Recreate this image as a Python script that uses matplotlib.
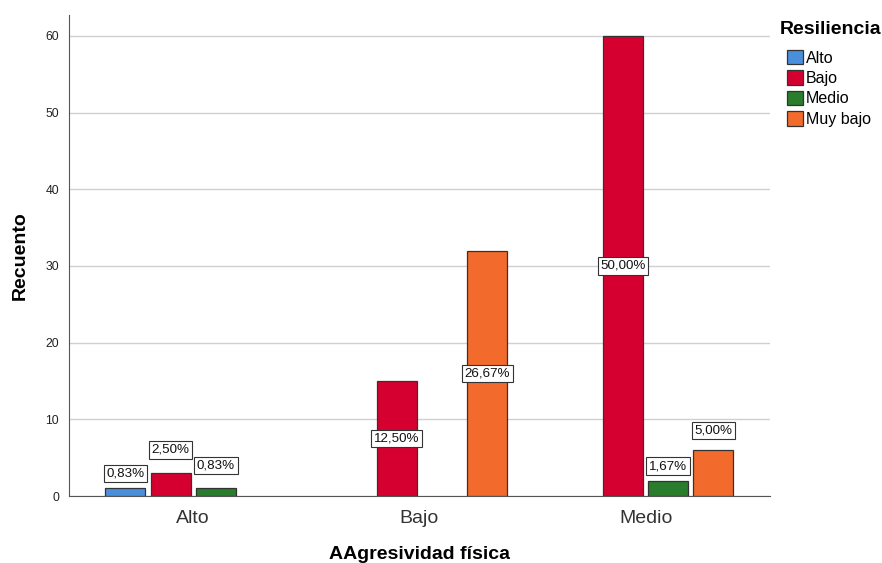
import numpy as np
import matplotlib.pyplot as plt

plt.rcParams['font.family'] = ['Liberation Sans', 'DejaVu Sans']

# data
categories = ["Alto", "Bajo", "Medio"]
series = ["Alto", "Bajo", "Medio", "Muy bajo"]
counts = {
    "Alto":     [1, 0, 0],
    "Bajo":     [3, 15, 60],
    "Medio":    [1, 0, 2],
    "Muy bajo": [0, 32, 6],
}
pct_labels = {
    "Alto":     ["0,83%", None, None],
    "Bajo":     ["2,50%", "12,50%", "50,00%"],
    "Medio":    ["0,83%", None, "1,67%"],
    "Muy bajo": [None, "26,67%", "5,00%"],
}
colors = ["#4a8fdc", "#d60030", "#2a7d2c", "#f26a2c"]
# label heights above short bars (SPSS staggers them)
label_gap = {
    "Alto":     [1.9, 0, 0],
    "Bajo":     [3.0, 0, 0],
    "Medio":    [3.0, 0, 1.9],
    "Muy bajo": [0, 0, 2.5],
}

fig = plt.figure(figsize=(8.82, 5.63), dpi=100)
ax = fig.add_axes([0.078, 0.119, 0.795, 0.854])

x = np.arange(len(categories))
slot = 0.2
width = 0.177

for i, (name, col) in enumerate(zip(series, colors)):
    pos = x + (i - 1.5) * slot
    vals = np.array(counts[name])
    keep = vals > 0
    ax.bar(pos[keep], vals[keep], width=width, color=col, edgecolor="#333333",
           linewidth=0.9, label=name, zorder=3)
    for p, v, lab, g in zip(pos, vals, pct_labels[name], label_gap[name]):
        if lab is None:
            continue
        y = v / 2 if v > 10 else v + g
        ax.text(p, y, lab, ha="center", va="center", fontsize=9.6,
                color="#111111", zorder=5,
                bbox=dict(boxstyle="square,pad=0.2", fc="white",
                          ec="#333333", lw=0.8))

ax.set_xlim(-0.55, 2.55)
ax.set_ylim(0, 62.7)
ax.set_yticks(range(0, 61, 10))
ax.set_xticks(x)
ax.set_xticklabels(categories, fontsize=14, color="#333333")
ax.tick_params(axis="y", labelsize=8.8, length=0, pad=7, colors="#222222")
ax.tick_params(axis="x", length=0, pad=10)
ax.yaxis.grid(True, color="#d0d0d0", linewidth=1, zorder=0)
ax.set_axisbelow(True)
for s in ["top", "right"]:
    ax.spines[s].set_visible(False)
for s in ["left", "bottom"]:
    ax.spines[s].set_color("#555555")

ax.set_ylabel("Recuento", fontsize=14, fontweight="bold")
ax.yaxis.set_label_coords(-0.057, 0.5)
ax.set_xlabel("AAgresividad física", fontsize=14, fontweight="bold")
ax.xaxis.set_label_coords(0.5, -0.105)

# legend title drawn separately so the entries sit indented under it
fig.text(780 / 882, 1 - 30 / 563, "Resiliencia", fontsize=14, fontweight="bold",
         ha="left", va="center")
ax.legend(loc="upper left", bbox_to_anchor=(787 / 882, 1 - 50 / 563),
          bbox_transform=fig.transFigure, frameon=False, fontsize=11.5,
          handlelength=1.0, handleheight=1.0, handletextpad=0.2,
          labelspacing=0.3, borderaxespad=0.0, borderpad=0.0)

fig.savefig("out.png", dpi=100)
